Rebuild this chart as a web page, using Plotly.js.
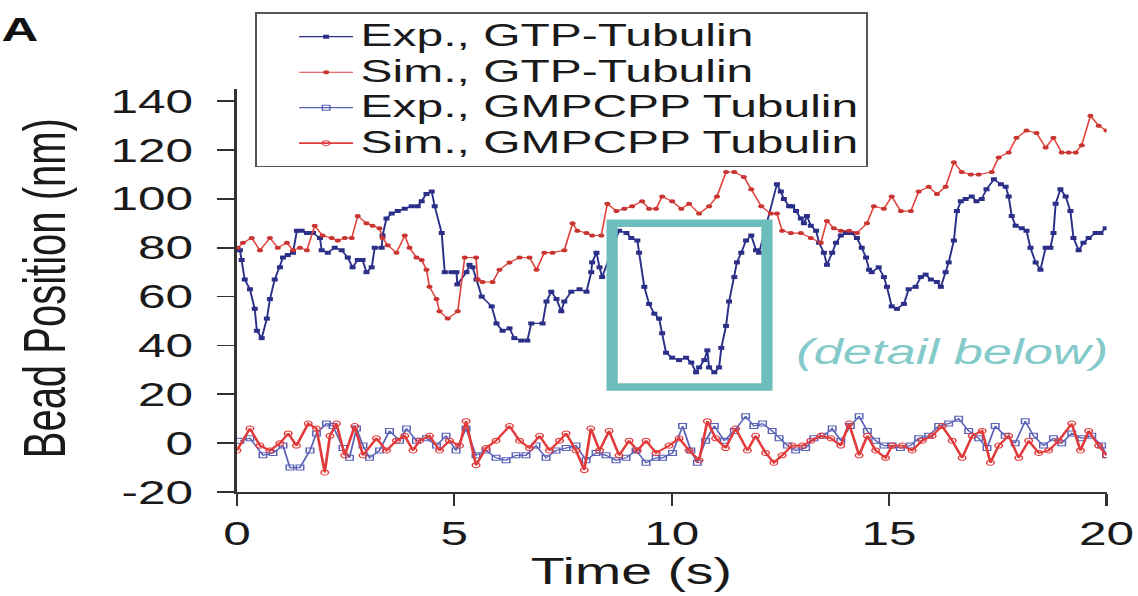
<!DOCTYPE html>
<html><head><meta charset="utf-8">
<script src="https://cdn.plot.ly/plotly-3.0.1.min.js"></script>
<style>
html,body{margin:0;padding:0;overflow:hidden;background:#fff;width:1138px;height:596px}
#wrap{width:759px;height:596px;transform:scaleX(1.49934);transform-origin:0 0;}
</style>
</head><body><div id="wrap"></div><script>
// ---- data (time in s, bead position in nm) ----
const expGtpT = [0.07,0.11,0.18,0.30,0.41,0.46,0.57,0.69,0.76,0.87,0.99,1.06,1.17,1.29,1.38,1.49,1.61,1.75,1.91,1.95,2.09,2.25,2.41,2.55,2.66,2.78,2.89,2.98,3.10,3.17,3.33,3.35,3.44,3.56,3.70,3.86,4.02,4.16,4.25,4.36,4.48,4.55,4.71,4.78,4.94,5.05,5.07,5.28,5.35,5.42,5.51,5.63,5.86,5.97,6.11,6.27,6.38,6.54,6.68,6.77,7.03,7.12,7.23,7.35,7.46,7.53,7.69,7.88,8.04,8.15,8.17,8.27,8.34,8.40,8.79,8.96,9.07,9.21,9.25,9.37,9.48,9.60,9.71,9.78,9.87,10.01,10.17,10.33,10.45,10.56,10.63,10.75,10.82,10.86,10.98,11.09,11.14,11.25,11.32,11.44,11.50,11.60,11.71,11.83,11.94,12.01,12.42,12.51,12.58,12.70,12.77,12.86,12.97,13.04,13.11,13.20,13.32,13.39,13.50,13.57,13.69,13.78,13.89,14.01,14.14,14.26,14.37,14.47,14.54,14.60,14.76,14.88,14.95,15.06,15.18,15.34,15.45,15.61,15.73,15.84,15.96,16.10,16.19,16.30,16.37,16.49,16.56,16.65,16.76,16.90,17.01,17.13,17.24,17.41,17.57,17.68,17.75,17.82,17.91,18.05,18.16,18.25,18.37,18.48,18.60,18.71,18.78,18.83,18.94,19.06,19.17,19.24,19.36,19.47,19.59,19.75,19.86,19.98];
const expGtpV = [79,75,67,63,55,46,43,51,59,67,72,76,77,78,87,87,86,86,84,79,78,80,79,76,72,75,75,70,72,80,80,85,92,94,95,96,97,97,99,102,103,97,86,70,70,70,65,70,73,72,67,60,56,49,46,47,43,42,42,49,49,58,62,59,54,58,62,63,62,70,74,78,72,68,87,86,84,83,78,64,57,53,51,45,37,35,34,35,33,29,31,34,38,31,29,31,39,48,58,68,74,78,83,85,79,78,106,103,100,97,97,95,92,90,93,89,87,82,78,73,78,82,85,86,86,84,80,76,71,70,72,68,64,56,55,57,63,64,68,69,67,66,64,70,74,83,95,99,100,101,99,100,104,108,106,105,101,93,89,88,87,80,74,71,80,80,86,98,104,101,95,84,79,82,84,86,86,88];

const simGtpT = [0.02,0.14,0.34,0.53,0.76,0.94,1.15,1.29,1.45,1.61,1.79,1.97,2.18,2.32,2.48,2.64,2.78,2.98,3.12,3.28,3.35,3.47,3.67,3.86,3.97,4.13,4.25,4.36,4.43,4.59,4.66,4.85,5.08,5.24,5.50,5.54,5.65,5.88,6.04,6.27,6.50,6.73,6.89,7.07,7.26,7.53,7.72,7.83,8.04,8.17,8.38,8.52,8.73,8.91,9.09,9.32,9.48,9.64,9.78,10.01,10.22,10.40,10.63,10.86,11.04,11.25,11.44,11.66,11.83,12.06,12.28,12.42,12.54,12.74,12.97,13.20,13.43,13.57,13.73,13.89,14.08,14.26,14.49,14.65,14.88,15.06,15.27,15.50,15.68,15.91,16.10,16.30,16.49,16.67,16.88,17.06,17.36,17.52,17.75,17.93,18.16,18.39,18.60,18.78,18.97,19.13,19.29,19.43,19.63,19.82,20.0];
const simGtpV = [80,82,84,79,84,80,82,79,80,79,89,85,84,83,84,84,93,90,89,88,84,81,78,85,80,76,75,71,64,59,54,51,54,76,76,67,66,66,71,74,76,76,71,78,78,79,90,87,86,85,85,98,95,96,97,99,96,96,101,99,96,98,94,97,101,111,111,109,104,97,94,94,87,86,86,84,82,91,88,87,87,86,90,97,96,101,95,95,103,105,102,105,115,111,110,110,111,117,119,125,128,127,121,125,119,119,119,122,134,130,128];

const expGmpT = [0.07,0.30,0.60,0.83,1.06,1.22,1.45,1.68,1.83,2.06,2.21,2.44,2.59,2.75,2.90,3.05,3.28,3.51,3.74,3.90,4.13,4.36,4.59,4.81,5.04,5.27,5.50,5.73,5.96,6.19,6.42,6.65,6.88,7.11,7.34,7.57,7.80,8.03,8.26,8.49,8.72,8.95,9.18,9.41,9.64,9.79,10.02,10.25,10.44,10.59,10.78,10.98,11.21,11.44,11.70,11.89,12.09,12.31,12.47,12.66,12.85,13.08,13.27,13.50,13.69,13.89,14.11,14.31,14.50,14.69,14.88,15.07,15.26,15.49,15.68,15.91,16.14,16.37,16.60,16.83,17.06,17.25,17.44,17.67,17.90,18.13,18.32,18.55,18.78,18.97,19.20,19.43,19.66,19.89,20.0];
const expGmpV = [1,2,-5,-4,-1,-10,-10,-3,4,8,7,-2,-6,6,-1,-6,-3,5,1,6,1,2,-1,3,-3,6,-5,-3,-6,-7,-5,-5,-1,-6,-3,-2,-1,-7,-4,-5,-7,-6,-3,-8,-6,-6,-4,7,-3,-8,1,7,1,5,11,7,8,5,2,-1,-3,-2,2,3,6,1,7,11,5,1,-1,-1,-2,-1,2,3,7,8,10,5,2,-2,7,3,0,9,3,-1,2,0,4,2,3,-1,-5];

const simGmpT = [0.00,0.30,0.53,0.76,0.99,1.18,1.37,1.64,1.83,2.02,2.14,2.29,2.48,2.71,2.90,3.21,3.44,3.67,3.86,4.05,4.20,4.43,4.66,4.89,5.12,5.27,5.50,5.73,5.96,6.27,6.50,6.73,6.96,7.19,7.42,7.57,7.80,7.99,8.14,8.34,8.56,8.79,9.02,9.21,9.41,9.64,9.94,10.17,10.40,10.63,10.82,11.01,11.24,11.47,11.74,11.93,12.16,12.35,12.54,12.77,13.00,13.20,13.43,13.66,13.89,14.08,14.31,14.50,14.69,14.92,15.07,15.30,15.53,15.76,15.99,16.22,16.45,16.68,16.91,17.14,17.33,17.52,17.75,17.98,18.21,18.44,18.67,18.90,19.20,19.40,19.59,19.82,20.0];
const simGmpV = [-3,6,-1,-3,0,4,-1,8,6,-12,3,8,-5,7,-5,2,-3,1,3,-3,1,3,-3,1,-1,9,-9,-2,1,7,1,-2,3,-3,1,4,-3,-11,6,-3,5,-5,1,-3,1,-4,-1,2,-3,-7,9,2,-2,6,-3,3,-4,-8,-5,-1,-1,1,3,2,-1,8,-5,3,-3,-6,-1,-1,-3,1,3,7,1,-6,3,5,-8,-1,3,-6,1,-4,-3,1,8,-3,5,-1,-5];

const seriesNames = ['Exp., GTP-Tubulin','Sim., GTP-Tubulin','Exp., GMPCPP Tubulin','Sim., GMPCPP Tubulin'];
const xTicks = [0,5,10,15,20];
const xTickText = ['0','5','10','15','20'];
const yTicks = [-20,0,20,40,60,80,100,120,140];
const yTickText = ['-20','0','20','40','60','80','100','120','140'];

const FONT = 'Liberation Sans, Arial, Helvetica, sans-serif';
const navy = '#2b2f88', red = '#e2403a', blue2 = '#5a62b6', red2 = '#e23a3a';
const legendLabel = s => '<span style="font-size:32px">' + s + '</span>';

const traces = [
  {x: expGtpT, y: expGtpV, name: legendLabel(seriesNames[0]), mode: 'lines+markers',
   line: {color: navy, width: 1.3}, marker: {symbol: 'square', size: 4, color: navy}},
  {x: simGtpT, y: simGtpV, name: legendLabel(seriesNames[1]), mode: 'lines+markers',
   line: {color: red, width: 1.1}, marker: {symbol: 'circle', size: 4, color: '#c93530'}},
  {x: expGmpT, y: expGmpV, name: legendLabel(seriesNames[2]), mode: 'lines+markers',
   line: {color: blue2, width: 1.2}, marker: {symbol: 'square-open', size: 5, color: blue2, line: {width: 1}}},
  {x: simGmpT, y: simGmpV, name: legendLabel(seriesNames[3]), mode: 'lines+markers',
   line: {color: red2, width: 1.8}, marker: {symbol: 'circle-open', size: 5, color: red2, line: {width: 1}}}
];

const axisCommon = {
  showline: true, linecolor: '#333', linewidth: 1.6, mirror: false,
  ticks: 'outside', ticklen: 12, tickwidth: 1.6, tickcolor: '#333',
  showgrid: false, zeroline: false, tickmode: 'array',
  tickfont: {family: FONT, size: 33, color: '#1a1a1a'}
};

const layout = {
  width: 759, height: 596,
  margin: {l: 158, r: 21, t: 77, b: 104},
  paper_bgcolor: '#fff', plot_bgcolor: '#fff',
  font: {family: FONT, color: '#1a1a1a'},
  xaxis: Object.assign({}, axisCommon, {range: [0, 20], tickvals: xTicks, ticktext: xTickText, ticklabelstandoff: 0}),
  yaxis: Object.assign({}, axisCommon, {range: [-20, 145], tickvals: yTicks, ticktext: yTickText, ticklabelstandoff: 9}),
  showlegend: true,
  legend: {x: 0.0207, y: 1.19, xanchor: 'left', yanchor: 'top', xref: 'paper', yref: 'paper',
    bgcolor: '#fff', bordercolor: '#555', borderwidth: 1.5,
    font: {family: FONT, size: 25, color: '#1a1a1a'}, itemwidth: 36, indentation: 23,
    tracegroupgap: 0},
  shapes: [
    {type: 'rect', xref: 'x', yref: 'y', x0: 8.63, x1: 12.19, y0: 23, y1: 90,
     line: {color: '#6dbdbd', width: 7.5}, fillcolor: 'rgba(0,0,0,0)'}
  ],
  annotations: [
    {text: 'Time (s)', xref: 'paper', yref: 'paper', x: 0.453, y: -0.198,
     xanchor: 'center', yanchor: 'middle', showarrow: false, font: {family: FONT, size: 37, color: '#1a1a1a'}},
    {text: 'Bead Position (nm)', xref: 'paper', yref: 'paper', x: -0.221, y: 0.505, textangle: -90,
     xanchor: 'center', yanchor: 'middle', showarrow: false, font: {family: FONT, size: 40, color: '#1a1a1a'}},
    {text: '<b>A</b>', xref: 'paper', yref: 'paper', x: -0.274, y: 1.15,
     xanchor: 'left', yanchor: 'middle', showarrow: false, font: {family: FONT, size: 34, color: '#111'}},
    {text: '<i>(detail below)</i>', xref: 'x', yref: 'y', x: 12.8, y: 37.4,
     xanchor: 'left', yanchor: 'middle', showarrow: false, font: {family: FONT, size: 35, color: '#84caca'}}
  ]
};

Plotly.newPlot('wrap', traces, layout, {staticPlot: true, displayModeBar: false});
</script></body></html>
